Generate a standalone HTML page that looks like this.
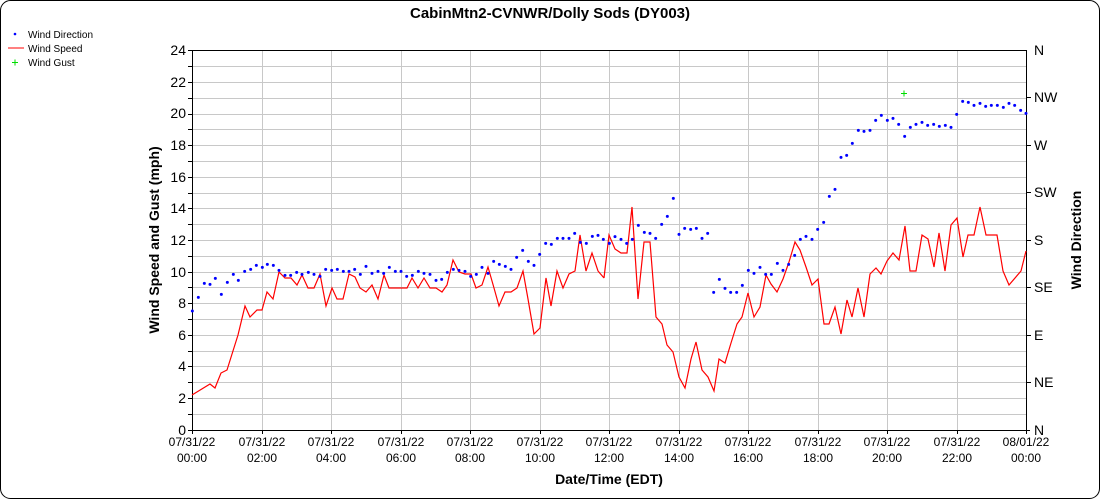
<!DOCTYPE html>
<html><head><meta charset="utf-8"><style>
html,body{margin:0;padding:0;background:#fff;}
svg{display:block;font-family:"Liberation Sans",sans-serif;}
</style></head><body>
<svg width="1100" height="500" viewBox="0 0 1100 500">
<rect x="0.5" y="0.5" width="1099" height="498" rx="10" fill="#fff" stroke="#000"/>
<text x="550" y="18" text-anchor="middle" font-size="15" font-weight="bold">CabinMtn2-CVNWR/Dolly Sods (DY003)</text>
<circle cx="15" cy="34" r="1.3" fill="#00f"/>
<text x="28" y="38" font-size="10">Wind Direction</text>
<line x1="8" y1="48" x2="24" y2="48" stroke="#f00"/>
<text x="28" y="52" font-size="10">Wind Speed</text>
<path d="M12 62.5h6M15 59.5v6" stroke="#0d0" stroke-width="1"/>
<text x="28" y="66" font-size="10">Wind Gust</text>
<g stroke="#c8c8c8" stroke-width="1">
<line x1="192" x2="1026" y1="66.5" y2="66.5"/><line x1="192" x2="1026" y1="82.5" y2="82.5"/><line x1="192" x2="1026" y1="98.5" y2="98.5"/><line x1="192" x2="1026" y1="114.5" y2="114.5"/><line x1="192" x2="1026" y1="129.5" y2="129.5"/><line x1="192" x2="1026" y1="145.5" y2="145.5"/><line x1="192" x2="1026" y1="161.5" y2="161.5"/><line x1="192" x2="1026" y1="177.5" y2="177.5"/><line x1="192" x2="1026" y1="193.5" y2="193.5"/><line x1="192" x2="1026" y1="208.5" y2="208.5"/><line x1="192" x2="1026" y1="224.5" y2="224.5"/><line x1="192" x2="1026" y1="240.5" y2="240.5"/><line x1="192" x2="1026" y1="256.5" y2="256.5"/><line x1="192" x2="1026" y1="272.5" y2="272.5"/><line x1="192" x2="1026" y1="287.5" y2="287.5"/><line x1="192" x2="1026" y1="303.5" y2="303.5"/><line x1="192" x2="1026" y1="319.5" y2="319.5"/><line x1="192" x2="1026" y1="335.5" y2="335.5"/><line x1="192" x2="1026" y1="351.5" y2="351.5"/><line x1="192" x2="1026" y1="366.5" y2="366.5"/><line x1="192" x2="1026" y1="382.5" y2="382.5"/><line x1="192" x2="1026" y1="398.5" y2="398.5"/><line x1="192" x2="1026" y1="414.5" y2="414.5"/>
<line y1="50" y2="430" x1="262.5" x2="262.5"/><line y1="50" y2="430" x1="331.5" x2="331.5"/><line y1="50" y2="430" x1="401.5" x2="401.5"/><line y1="50" y2="430" x1="470.5" x2="470.5"/><line y1="50" y2="430" x1="540.5" x2="540.5"/><line y1="50" y2="430" x1="609.5" x2="609.5"/><line y1="50" y2="430" x1="679.5" x2="679.5"/><line y1="50" y2="430" x1="748.5" x2="748.5"/><line y1="50" y2="430" x1="818.5" x2="818.5"/><line y1="50" y2="430" x1="887.5" x2="887.5"/><line y1="50" y2="430" x1="957.5" x2="957.5"/>
</g>
<g stroke="#000" stroke-width="1">
<line x1="192.5" y1="50" x2="192.5" y2="434"/>
<line x1="1026.5" y1="50" x2="1026.5" y2="434"/>
<line x1="188" y1="50.5" x2="1026" y2="50.5"/>
<line x1="188" y1="430.5" x2="1030" y2="430.5"/>
<line x1="188" x2="192" y1="66.5" y2="66.5"/><line x1="188" x2="192" y1="82.5" y2="82.5"/><line x1="188" x2="192" y1="98.5" y2="98.5"/><line x1="188" x2="192" y1="114.5" y2="114.5"/><line x1="188" x2="192" y1="129.5" y2="129.5"/><line x1="188" x2="192" y1="145.5" y2="145.5"/><line x1="188" x2="192" y1="161.5" y2="161.5"/><line x1="188" x2="192" y1="177.5" y2="177.5"/><line x1="188" x2="192" y1="193.5" y2="193.5"/><line x1="188" x2="192" y1="208.5" y2="208.5"/><line x1="188" x2="192" y1="224.5" y2="224.5"/><line x1="188" x2="192" y1="240.5" y2="240.5"/><line x1="188" x2="192" y1="256.5" y2="256.5"/><line x1="188" x2="192" y1="272.5" y2="272.5"/><line x1="188" x2="192" y1="287.5" y2="287.5"/><line x1="188" x2="192" y1="303.5" y2="303.5"/><line x1="188" x2="192" y1="319.5" y2="319.5"/><line x1="188" x2="192" y1="335.5" y2="335.5"/><line x1="188" x2="192" y1="351.5" y2="351.5"/><line x1="188" x2="192" y1="366.5" y2="366.5"/><line x1="188" x2="192" y1="382.5" y2="382.5"/><line x1="188" x2="192" y1="398.5" y2="398.5"/><line x1="188" x2="192" y1="414.5" y2="414.5"/>
<line x1="1026" x2="1031" y1="97.5" y2="97.5"/><line x1="1026" x2="1031" y1="145.5" y2="145.5"/><line x1="1026" x2="1031" y1="192.5" y2="192.5"/><line x1="1026" x2="1031" y1="240.5" y2="240.5"/><line x1="1026" x2="1031" y1="287.5" y2="287.5"/><line x1="1026" x2="1031" y1="335.5" y2="335.5"/><line x1="1026" x2="1031" y1="382.5" y2="382.5"/>
<line y1="430" y2="434" x1="262.5" x2="262.5"/><line y1="430" y2="434" x1="331.5" x2="331.5"/><line y1="430" y2="434" x1="401.5" x2="401.5"/><line y1="430" y2="434" x1="470.5" x2="470.5"/><line y1="430" y2="434" x1="540.5" x2="540.5"/><line y1="430" y2="434" x1="609.5" x2="609.5"/><line y1="430" y2="434" x1="679.5" x2="679.5"/><line y1="430" y2="434" x1="748.5" x2="748.5"/><line y1="430" y2="434" x1="818.5" x2="818.5"/><line y1="430" y2="434" x1="887.5" x2="887.5"/><line y1="430" y2="434" x1="957.5" x2="957.5"/>
</g>
<g font-size="14" text-anchor="end">
<text x="186" y="55">24</text><text x="186" y="87">22</text><text x="186" y="118">20</text><text x="186" y="150">18</text><text x="186" y="182">16</text><text x="186" y="213">14</text><text x="186" y="245">12</text><text x="186" y="277">10</text><text x="186" y="308">8</text><text x="186" y="340">6</text><text x="186" y="371">4</text><text x="186" y="403">2</text><text x="186" y="435">0</text>
</g>
<g font-size="14">
<text x="1034" y="55">N</text><text x="1034" y="102">NW</text><text x="1034" y="150">W</text><text x="1034" y="197">SW</text><text x="1034" y="245">S</text><text x="1034" y="292">SE</text><text x="1034" y="340">E</text><text x="1034" y="387">NE</text><text x="1034" y="435">N</text>
</g>
<g font-size="12" text-anchor="middle">
<text x="192" y="446">07/31/22</text><text x="192" y="462">00:00</text>
<text x="262" y="446">07/31/22</text><text x="262" y="462">02:00</text>
<text x="331" y="446">07/31/22</text><text x="331" y="462">04:00</text>
<text x="401" y="446">07/31/22</text><text x="401" y="462">06:00</text>
<text x="470" y="446">07/31/22</text><text x="470" y="462">08:00</text>
<text x="540" y="446">07/31/22</text><text x="540" y="462">10:00</text>
<text x="609" y="446">07/31/22</text><text x="609" y="462">12:00</text>
<text x="679" y="446">07/31/22</text><text x="679" y="462">14:00</text>
<text x="748" y="446">07/31/22</text><text x="748" y="462">16:00</text>
<text x="818" y="446">07/31/22</text><text x="818" y="462">18:00</text>
<text x="887" y="446">07/31/22</text><text x="887" y="462">20:00</text>
<text x="957" y="446">07/31/22</text><text x="957" y="462">22:00</text>
<text x="1026" y="446">08/01/22</text><text x="1026" y="462">00:00</text>
</g>
<text x="609" y="484" text-anchor="middle" font-size="14" font-weight="bold">Date/Time (EDT)</text>
<text transform="translate(159,240) rotate(-90)" text-anchor="middle" font-size="14" font-weight="bold">Wind Speed and Gust (mph)</text>
<text transform="translate(1081,240) rotate(-90)" text-anchor="middle" font-size="14" font-weight="bold">Wind Direction</text>
<g fill="none" stroke="#f00" stroke-width="1.2">
<polyline points="192,395 210,384 215,388 221,373 227,370 238,335 245,306 250,317 257,310 262,310 267,292 273,299 279,272 285,278 291,278 297,285 302,275 308,288 314,288 320,274 326,306 332,288 337,299 343,299 349,274 355,277 360,288 366,292 372,285 378,299 384,275 389,288 407,288 412,278 418,288 424,278 430,288 436,288 442,292 447,285 453,260 459,272 465,274 471,274 476,288 482,285 488,267 494,288 499,306 505,292 511,292 517,288 523,271 528,299 534,334 540,328 546,278 551,306 557,271 563,288 569,274 575,271 580,235 586,271 592,253 598,271 604,278"/>
<polyline points="604,278 609,235 615,249 621,253 627,253 632,207 638,299 644,242 650,242 656,317 662,324 667,345 673,352 679,377 685,388 691,359 696,342 702,370 708,377 714,391 719,359 725,363 731,343 737,324 742,317 748,293 754,317 760,307 766,275 771,284 777,292 783,279 789,262 795,242 800,250 806,267 812,285 818,279 824,324 829,324 835,307 841,334 847,300 852,317 858,288 864,317 870,274 876,268 881,274 887,261 893,253 899,260 905,226 910,271 916,271 922,235 928,239 934,267 939,233 945,271 951,225 957,218 963,257 968,235 974,235 980,207 986,235 997,235 1003,271 1009,285 1021,271 1026,251"/>
</g>
<path d="M901 93.5h6M904 90.5v6" stroke="#0d0" stroke-width="1"/>
<g fill="#00f" transform="translate(180,160) scale(0.33333)">
<circle cx="37" cy="453" r="4.5"/><circle cx="55" cy="412" r="4.5"/><circle cx="73" cy="370" r="4.5"/><circle cx="90" cy="373" r="4.5"/><circle cx="106" cy="355" r="4.5"/><circle cx="124" cy="403" r="4.5"/><circle cx="142" cy="367" r="4.5"/><circle cx="160" cy="343" r="4.5"/><circle cx="175" cy="361" r="4.5"/><circle cx="194" cy="334" r="4.5"/><circle cx="212" cy="328" r="4.5"/><circle cx="229" cy="316" r="4.5"/><circle cx="247" cy="322" r="4.5"/><circle cx="262" cy="313" r="4.5"/><circle cx="280" cy="316" r="4.5"/><circle cx="297" cy="331" r="4.5"/><circle cx="315" cy="346" r="4.5"/><circle cx="332" cy="346" r="4.5"/><circle cx="350" cy="337" r="4.5"/><circle cx="366" cy="343" r="4.5"/><circle cx="385" cy="337" r="4.5"/><circle cx="402" cy="343" r="4.5"/><circle cx="420" cy="349" r="4.5"/><circle cx="437" cy="328" r="4.5"/><circle cx="455" cy="331" r="4.5"/><circle cx="472" cy="328" r="4.5"/><circle cx="490" cy="334" r="4.5"/><circle cx="507" cy="334" r="4.5"/><circle cx="524" cy="328" r="4.5"/><circle cx="541" cy="343" r="4.5"/><circle cx="558" cy="319" r="4.5"/><circle cx="576" cy="340" r="4.5"/><circle cx="594" cy="334" r="4.5"/><circle cx="611" cy="340" r="4.5"/><circle cx="628" cy="322" r="4.5"/><circle cx="646" cy="334" r="4.5"/><circle cx="663" cy="334" r="4.5"/><circle cx="680" cy="349" r="4.5"/><circle cx="697" cy="346" r="4.5"/><circle cx="715" cy="334" r="4.5"/><circle cx="732" cy="340" r="4.5"/><circle cx="750" cy="343" r="4.5"/><circle cx="768" cy="361" r="4.5"/><circle cx="785" cy="358" r="4.5"/><circle cx="802" cy="337" r="4.5"/><circle cx="820" cy="328" r="4.5"/><circle cx="837" cy="331" r="4.5"/><circle cx="855" cy="334" r="4.5"/><circle cx="872" cy="349" r="4.5"/><circle cx="889" cy="343" r="4.5"/><circle cx="906" cy="322" r="4.5"/><circle cx="924" cy="340" r="4.5"/><circle cx="941" cy="304" r="4.5"/><circle cx="958" cy="313" r="4.5"/><circle cx="976" cy="319" r="4.5"/><circle cx="993" cy="328" r="4.5"/><circle cx="1010" cy="292" r="4.5"/><circle cx="1028" cy="271" r="4.5"/><circle cx="1045" cy="304" r="4.5"/><circle cx="1062" cy="316" r="4.5"/><circle cx="1079" cy="283" r="4.5"/><circle cx="1097" cy="250" r="4.5"/><circle cx="1114" cy="253" r="4.5"/><circle cx="1132" cy="235" r="4.5"/><circle cx="1149" cy="235" r="4.5"/><circle cx="1167" cy="235" r="4.5"/><circle cx="1184" cy="220" r="4.5"/><circle cx="1201" cy="247" r="4.5"/><circle cx="1219" cy="250" r="4.5"/><circle cx="1237" cy="229" r="4.5"/><circle cx="1254" cy="226" r="4.5"/>
</g>
<g fill="#00f" transform="translate(600,80) scale(0.33333)">
<circle cx="10" cy="478" r="4.5"/><circle cx="28" cy="490" r="4.5"/><circle cx="45" cy="470" r="4.5"/><circle cx="63" cy="478" r="4.5"/><circle cx="80" cy="490" r="4.5"/><circle cx="97" cy="478" r="4.5"/><circle cx="115" cy="436" r="4.5"/><circle cx="133" cy="457" r="4.5"/><circle cx="150" cy="460" r="4.5"/><circle cx="167" cy="475" r="4.5"/><circle cx="185" cy="433" r="4.5"/><circle cx="202" cy="409" r="4.5"/><circle cx="220" cy="355" r="4.5"/><circle cx="237" cy="463" r="4.5"/><circle cx="254" cy="445" r="4.5"/><circle cx="272" cy="448" r="4.5"/><circle cx="289" cy="445" r="4.5"/><circle cx="306" cy="475" r="4.5"/><circle cx="323" cy="460" r="4.5"/><circle cx="341" cy="637" r="4.5"/><circle cx="358" cy="598" r="4.5"/><circle cx="375" cy="625" r="4.5"/><circle cx="392" cy="637" r="4.5"/><circle cx="410" cy="637" r="4.5"/><circle cx="427" cy="616" r="4.5"/><circle cx="445" cy="571" r="4.5"/><circle cx="462" cy="580" r="4.5"/><circle cx="480" cy="562" r="4.5"/><circle cx="497" cy="583" r="4.5"/><circle cx="514" cy="583" r="4.5"/><circle cx="532" cy="550" r="4.5"/><circle cx="549" cy="571" r="4.5"/><circle cx="566" cy="553" r="4.5"/><circle cx="584" cy="526" r="4.5"/><circle cx="601" cy="478" r="4.5"/><circle cx="618" cy="469" r="4.5"/><circle cx="636" cy="478" r="4.5"/><circle cx="653" cy="448" r="4.5"/><circle cx="671" cy="427" r="4.5"/><circle cx="688" cy="349" r="4.5"/><circle cx="705" cy="328" r="4.5"/><circle cx="723" cy="232" r="4.5"/><circle cx="740" cy="226" r="4.5"/><circle cx="757" cy="190" r="4.5"/><circle cx="775" cy="151" r="4.5"/><circle cx="792" cy="154" r="4.5"/><circle cx="810" cy="151" r="4.5"/><circle cx="827" cy="121" r="4.5"/><circle cx="844" cy="106" r="4.5"/><circle cx="862" cy="121" r="4.5"/><circle cx="879" cy="115" r="4.5"/><circle cx="896" cy="133" r="4.5"/><circle cx="914" cy="169" r="4.5"/><circle cx="931" cy="142" r="4.5"/><circle cx="948" cy="133" r="4.5"/><circle cx="966" cy="127" r="4.5"/><circle cx="983" cy="136" r="4.5"/><circle cx="1001" cy="133" r="4.5"/><circle cx="1018" cy="139" r="4.5"/><circle cx="1036" cy="136" r="4.5"/><circle cx="1053" cy="142" r="4.5"/><circle cx="1070" cy="103" r="4.5"/><circle cx="1088" cy="64" r="4.5"/><circle cx="1105" cy="67" r="4.5"/><circle cx="1122" cy="76" r="4.5"/><circle cx="1140" cy="70" r="4.5"/><circle cx="1157" cy="79" r="4.5"/><circle cx="1174" cy="76" r="4.5"/><circle cx="1192" cy="76" r="4.5"/><circle cx="1210" cy="82" r="4.5"/><circle cx="1227" cy="70" r="4.5"/><circle cx="1244" cy="76" r="4.5"/><circle cx="1262" cy="91" r="4.5"/><circle cx="1278" cy="100" r="4.5"/>
</g>
</svg>
</body></html>
